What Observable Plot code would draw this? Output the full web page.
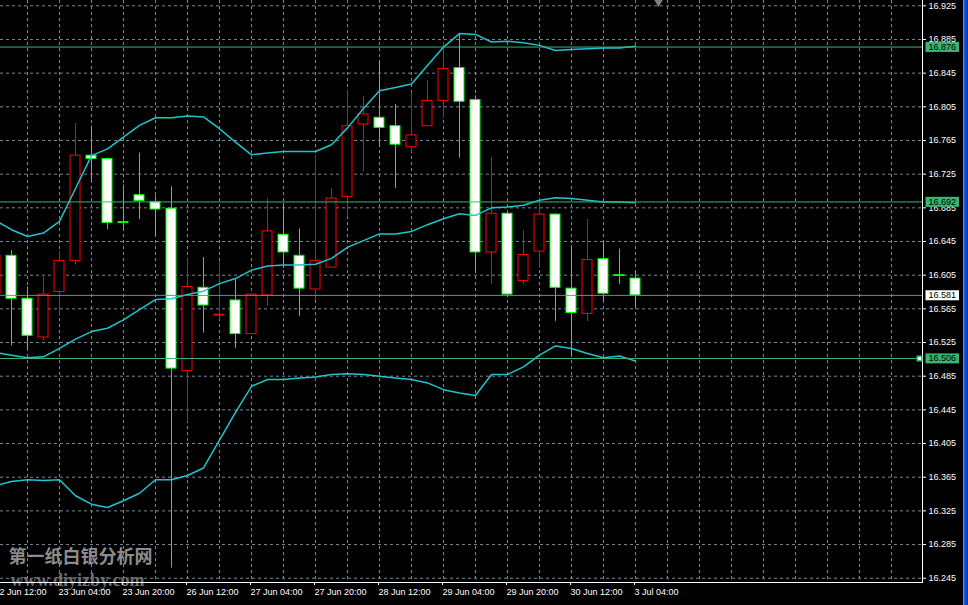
<!DOCTYPE html>
<html>
<head>
<meta charset="utf-8">
<script src="https://cdn.jsdelivr.net/npm/d3@7"></script>
<script src="https://cdn.jsdelivr.net/npm/@observablehq/plot@0.6"></script>
<style>
html, body { margin: 0; padding: 0; background: #000; overflow: hidden; }
#chart { position: relative; width: 968px; height: 605px; }
#edge { position: absolute; right: 0; top: 0; width: 5px; height: 605px;
  background: linear-gradient(to right, #5a96ff, #0a4ee0 40%, #0638b8); }
</style>
</head>
<body>
<div id="chart"><div id="edge"></div></div>
<script>
// H4 candles, index 0 = 22 Jun 12:00 ... index 40 = 3 Jul 04:00
const open  = [16.583,16.628,16.577,16.531,16.585,16.622,16.747,16.743,16.668,16.700,16.692,16.684,16.491,16.590,16.557,16.575,16.535,16.581,16.653,16.628,16.588,16.614,16.698,16.784,16.792,16.782,16.757,16.782,16.812,16.851,16.813,16.632,16.678,16.598,16.633,16.677,16.589,16.559,16.624,16.605,16.601];
const high  = [16.630,16.634,16.591,16.605,16.633,16.785,16.782,16.743,16.712,16.750,16.699,16.710,16.624,16.626,16.621,16.600,16.582,16.696,16.690,16.660,16.747,16.708,16.825,16.817,16.859,16.808,16.822,16.836,16.881,16.892,16.818,16.745,16.678,16.658,16.695,16.678,16.640,16.671,16.645,16.636,16.609];
const low   = [16.580,16.521,16.516,16.527,16.556,16.617,16.715,16.659,16.657,16.671,16.651,16.257,16.430,16.536,16.552,16.518,16.535,16.568,16.613,16.556,16.575,16.614,16.674,16.728,16.757,16.708,16.751,16.782,16.791,16.744,16.609,16.594,16.581,16.594,16.613,16.550,16.508,16.550,16.574,16.594,16.567];
const close = [16.628,16.577,16.533,16.582,16.622,16.747,16.743,16.667,16.667,16.693,16.683,16.494,16.591,16.569,16.558,16.535,16.582,16.657,16.632,16.589,16.622,16.696,16.782,16.796,16.780,16.760,16.771,16.812,16.850,16.811,16.632,16.678,16.582,16.629,16.677,16.590,16.560,16.623,16.583,16.604,16.581];

// Bollinger bands
const upper  = [16.670,16.659,16.651,16.655,16.669,16.708,16.747,16.755,16.769,16.783,16.792,16.792,16.794,16.793,16.779,16.763,16.748,16.750,16.752,16.752,16.752,16.760,16.780,16.803,16.824,16.828,16.832,16.854,16.876,16.892,16.891,16.882,16.883,16.881,16.878,16.872,16.873,16.874,16.875,16.875,16.877];
const middle = [16.513,16.510,16.507,16.508,16.518,16.529,16.538,16.542,16.552,16.564,16.576,16.577,16.582,16.586,16.595,16.601,16.611,16.616,16.617,16.617,16.618,16.625,16.638,16.646,16.654,16.654,16.657,16.665,16.672,16.678,16.676,16.685,16.686,16.688,16.694,16.697,16.696,16.694,16.692,16.692,16.691];
const lower  = [16.355,16.360,16.362,16.361,16.362,16.343,16.333,16.329,16.337,16.346,16.362,16.362,16.367,16.376,16.409,16.442,16.473,16.481,16.481,16.483,16.484,16.487,16.488,16.487,16.485,16.483,16.481,16.477,16.469,16.465,16.462,16.487,16.487,16.496,16.510,16.521,16.518,16.512,16.507,16.509,16.503];

// Horizontal lines and bid
const levels = [16.876, 16.692, 16.506];
const bid = 16.581;

// Axis ticks
const yTicks = [16.245,16.285,16.325,16.365,16.405,16.445,16.485,16.525,16.565,16.605,16.645,16.685,16.725,16.765,16.805,16.845,16.885,16.925];
const gridIdx = [2,4,6,8,10,12,14,16,18,20,22,24,26,28,30,32,34,36,38,40,42,44,46,48,50,52,54,56];
const timeIdx = [0,4,8,12,16,20,24,28,32,36,40];
const timeLabels = ["22 Jun 12:00","23 Jun 04:00","23 Jun 20:00","26 Jun 12:00","27 Jun 04:00","27 Jun 20:00","28 Jun 12:00","29 Jun 04:00","29 Jun 20:00","30 Jun 12:00","3 Jul 04:00"];
const shiftMarker = [41.44];
const watermark = ["第一纸白银分析网"];
const watermarkUrl = ["www.diyizby.com"];

const candles = open.map((o, i) => ({i, open: o, high: high[i], low: low[i], close: close[i]}));
const bands = upper.map((u, i) => ({i, upper: u, middle: middle[i], lower: lower[i]}));
const isUp = d => d.close > d.open;
const bodyHalf = 5 / 16;
const cyan = "#20c4cc";
const grid = "#778899";
const lvlGreen = "#3cb371";
const labelOf = new Map(timeIdx.map((d, k) => [d, timeLabels[k]]));
const fmt = d => d.toFixed(3);

const plot = Plot.plot({
  width: 968, height: 605,
  marginTop: 0, marginRight: 46, marginBottom: 23, marginLeft: 0,
  style: {background: "#000", color: "#fff", fontFamily: "'Liberation Sans', Arial, sans-serif", fontSize: "9px"},
  x: {type: "linear", domain: [5 / 16, 927 / 16], label: null},
  y: {type: "linear", domain: [16.23993, 16.93130], label: null},
  color: {type: "identity"},
  marks: [
    Plot.gridY(yTicks, {stroke: grid, strokeOpacity: 1, strokeDasharray: "3,3"}),
    Plot.gridX(gridIdx, {stroke: grid, strokeOpacity: 1, strokeDasharray: "3,3"}),
    Plot.text(watermark, {text: d => d, frameAnchor: "bottom-left", dx: 8, dy: -19.5, textAnchor: "start",
      fontSize: 18, fontWeight: "bold", fontFamily: "'Noto Sans CJK SC'", fill: "#8c8c8c"}),
    Plot.text(watermarkUrl, {text: d => d, frameAnchor: "bottom-left", dx: 10, dy: 3, textAnchor: "start",
      fontSize: 18, fontWeight: "bold", fontFamily: "'Liberation Serif'", fill: "#6e6e6e"}),
    Plot.ruleX(candles, {x: "i", y1: "low", y2: "high", stroke: d => isUp(d) ? "#ff0000" : "#00ff00"}),
    Plot.rect(candles, {x1: d => d.i - bodyHalf, x2: d => d.i + bodyHalf, y1: "open", y2: "close",
      fill: d => isUp(d) ? "#000000" : "#ffffff", stroke: d => isUp(d) ? "#ff0000" : "#00ff00"}),
    Plot.line(bands, {x: "i", y: "upper", stroke: cyan}),
    Plot.line(bands, {x: "i", y: "middle", stroke: cyan}),
    Plot.line(bands, {x: "i", y: "lower", stroke: cyan}),
    Plot.ruleY(levels, {stroke: lvlGreen}),
    Plot.ruleY([bid], {stroke: grid}),
    Plot.frame({stroke: "#fff", insetTop: -4, insetLeft: -4}),
    Plot.axisY(yTicks, {anchor: "right", tickSize: 3, tickPadding: 3, tickFormat: fmt, label: null}),
    Plot.axisX(timeIdx, {anchor: "bottom", tickSize: 3, tickPadding: 3, textAnchor: "start", dx: -1,
      tickFormat: d => labelOf.get(d), label: null}),
    Plot.dot([levels[2]], {y: d => d, frameAnchor: "right", dx: -3, symbol: "square", r: 2.6, fill: "#fff", stroke: lvlGreen}),
    Plot.dot(shiftMarker, {x: d => d, frameAnchor: "top", symbol: "triangle", rotate: 180, r: 5, fill: "#808080", dy: -1}),
    Plot.text(levels, {y: d => d, text: fmt, frameAnchor: "right", dx: 6, textAnchor: "start", fill: "#000"}),
    Plot.text([bid], {y: d => d, text: fmt, frameAnchor: "right", dx: 6, textAnchor: "start", fill: "#000"})
  ]
});

const chart = document.getElementById("chart");
chart.insertBefore(plot, chart.firstChild);

// background boxes behind the price labels on the right
const boxColor = new Map(levels.map(v => [fmt(v), lvlGreen]));
boxColor.set(fmt(bid), "#ffffff");
plot.querySelectorAll("text").forEach(el => {
  const bg = boxColor.get(el.textContent.trim());
  if (!bg) return;
  const b = el.getBBox();
  const t = el.getAttribute("transform");
  const r = document.createElementNS("http://www.w3.org/2000/svg", "rect");
  r.setAttribute("x", b.x - 3);
  r.setAttribute("y", b.y);
  r.setAttribute("width", b.width + 6);
  r.setAttribute("height", b.height);
  r.setAttribute("fill", bg);
  if (t) r.setAttribute("transform", t);
  el.parentNode.insertBefore(r, el);
});
</script>
</body>
</html>
